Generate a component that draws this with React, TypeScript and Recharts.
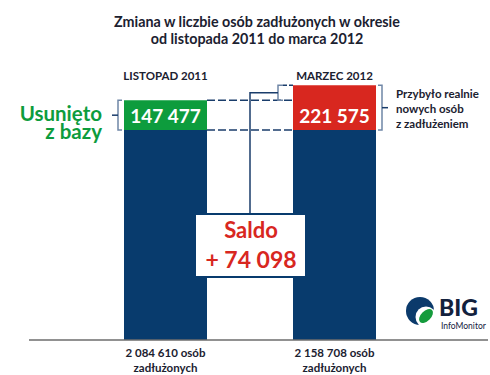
import React from 'react';
import { BarChart, Bar, XAxis, YAxis, Cell, LabelList } from 'recharts';

// ---- data ----
const categories = ['LISTOPAD 2011', 'MARZEC 2012'];
const totals = [2084610, 2158708]; // osób zadłużonych
const remaining = [1937133, 1937133]; // część wspólna (bez zmian)
const changes = [147477, 221575]; // usunięto z bazy / przybyło nowych
const changeColors = ['#0d9c3d', '#d8271f'];
const titleLines = ['Zmiana w liczbie osób zadłużonych w okresie', 'od listopada 2011 do marca 2012'];
const removedLabel = ['Usunięto', 'z bazy'];
const addedLabel = ['Przybyło realnie', 'nowych osób', 'z zadłużeniem'];
const totalSuffix = ['osób', 'zadłużonych'];
const saldoLabel = 'Saldo';
const yDomain = [900000, 2160000];

const data = categories.map((c, i) => ({ category: c, remaining: remaining[i], change: changes[i] }));

const FONT = 'Lato, "Open Sans", sans-serif';
const NAVY = '#083b6d';
const DARK = '#1b2130';
const BRACKET = '#6f86a6';
const LINE = '#1a3d6b';

const fmt = (n: number) => String(n).replace(/\B(?=(\d{3})+(?!\d))/g, ' ');

// geometry of the top segments, as laid out by Recharts (filled while labels render)
const geom: { x: number; y: number; w: number; h: number }[] = [];

const TopTick = (p: any) => (
  <text x={p.x} y={p.y + 3} textAnchor="middle" fontFamily={FONT} fontWeight={700} fontSize={11.5} fill={DARK}>
    {p.payload.value}
  </text>
);

const BottomTick = (p: any) => {
  const i = categories.indexOf(p.payload.value);
  return (
    <g>
      <text x={p.x} y={p.y + 9} textAnchor="middle" fontFamily={FONT} fontWeight={700} fontSize={11.5} fill={DARK}>
        {`${fmt(totals[i])} ${totalSuffix[0]}`}
      </text>
      <text x={p.x} y={p.y + 24} textAnchor="middle" fontFamily={FONT} fontWeight={700} fontSize={11.5} fill={DARK}>
        {totalSuffix[1]}
      </text>
    </g>
  );
};

const Annotations = (props: any) => {
  const vb = props.viewBox ?? props;
  let { x, y, width: w, height: h } = vb;
  if (h < 0) { y += h; h = -h; }
  const index = props.index;
  geom[index] = { x, y, w, h };
  const value = changes[index];
  const label = (
    <text x={x + w / 2} y={y + h - 7} textAnchor="middle" fontFamily={FONT} fontWeight={700} fontSize={19} fill="#fff">
      {fmt(value)}
    </text>
  );
  if (index === 0) {
    const bx = x - 6;
    const mid = y + h / 2;
    return (
      <g>
        {label}
        <path d={`M${bx + 4},${y} H${bx} V${y + h} H${bx + 4}`} fill="none" stroke={BRACKET} strokeWidth={1.5} />
        <line x1={x - 12} x2={bx} y1={mid} y2={mid} stroke={LINE} strokeWidth={1.5} />
        <text x={x - 22} y={y + 21} textAnchor="end" fontFamily={FONT} fontWeight={700} fontSize={20.5} fill={changeColors[0]}>
          {removedLabel[0]}
        </text>
        <text x={x - 22} y={y + 39} textAnchor="end" fontFamily={FONT} fontWeight={700} fontSize={20.5} fill={changeColors[0]}>
          {removedLabel[1]}
        </text>
      </g>
    );
  }
  const left = geom[0] ?? { x: x - 169, y: y + 15, w, h: h - 15 };
  const lx = left.x + left.w; // right edge of left bar
  const net = totals[1] - totals[0];
  const yNet = y + (net * h) / value;
  const nbx = x - 15;
  const nmid = (y + yNet) / 2;
  const cx = (lx + x) / 2;
  const boxTop = 214;
  const rbx = x + w + 6;
  const rmid = y + h / 2;
  return (
    <g>
      {/* dashed level lines between bars */}
      <line x1={lx} x2={x} y1={left.y} y2={left.y} stroke={LINE} strokeWidth={1.5} strokeDasharray="8 3" />
      <line x1={lx} x2={x} y1={y + h} y2={y + h} stroke={LINE} strokeWidth={1.5} strokeDasharray="8 3" />
      {label}
      {/* right bracket */}
      <path d={`M${rbx - 4},${y} H${rbx} V${y + h} H${rbx - 4}`} fill="none" stroke={BRACKET} strokeWidth={1.5} />
      <line x1={rbx} x2={rbx + 6} y1={rmid} y2={rmid} stroke={LINE} strokeWidth={1.5} />
      {addedLabel.map((t, k) => (
        <text key={k} x={x + w + 20} y={y + 13 + k * 15} fontFamily={FONT} fontWeight={700} fontSize={11.5} fill={DARK}>
          {t}
        </text>
      ))}
      {/* net bracket */}
      <path d={`M${nbx + 5},${y} H${nbx} V${yNet} H${nbx + 5}`} fill="none" stroke={BRACKET} strokeWidth={1.5} />
      <line x1={nbx + 5} x2={x} y1={y} y2={y} stroke={LINE} strokeWidth={1.5} strokeDasharray="4 2" />
      <path d={`M${nbx},${nmid} H${cx} V${boxTop}`} fill="none" stroke={LINE} strokeWidth={1.5} />
      {/* saldo box */}
      <rect x={cx - 55} y={boxTop} width={111} height={63} fill="#fff" stroke={NAVY} strokeWidth={2} />
      <text x={cx + 1} y={boxTop + 24} textAnchor="middle" fontFamily={FONT} fontWeight={700} fontSize={22} fill={changeColors[1]}>
        {saldoLabel}
      </text>
      <text x={cx + 1} y={boxTop + 54} textAnchor="middle" fontFamily={FONT} fontWeight={700} fontSize={23} fill={changeColors[1]}>
        {`+ ${fmt(net)}`}
      </text>
    </g>
  );
};

const Overlay = () => (
  <svg width={490} height={375} style={{ position: 'absolute', left: 0, top: 0, pointerEvents: 'none' }}>
    {titleLines.map((t, k) => (
      <text key={k} x={257} y={27 + k * 17} textAnchor="middle" fontFamily={FONT} fontWeight={700} fontSize={14.3} fill={DARK}>
        {t}
      </text>
    ))}
    {/* logo */}
    <g>
      <circle cx={420} cy={311} r={14} fill="#0b3a6b" />
      <circle cx={426} cy={317} r={10.5} fill="#fff" />
      <ellipse cx={426} cy={316} rx={8.5} ry={5} fill="#159b3c" transform="rotate(-45 426 316)" />
      <text x={439} y={316} fontFamily={FONT} fontWeight={900} fontSize={23} fill="#13213d">BIG</text>
      <text x={441} y={329} fontFamily={FONT} fontSize={8.5} fill="#13213d">InfoMonitor</text>
    </g>
  </svg>
);

export default function App() {
  return (
    <div style={{ position: 'absolute', left: 0, top: 0, width: 490, height: 375, background: '#fff' }}>
      <BarChart width={490} height={375} data={data} margin={{ top: 55, right: 2, bottom: 0, left: 29 }}>
        <XAxis
          xAxisId="top"
          orientation="top"
          dataKey="category"
          height={30}
          axisLine={false}
          tickLine={false}
          interval={0}
          padding={{ left: 52, right: 69 }}
          tick={<TopTick />}
        />
        <XAxis
          dataKey="category"
          height={35}
          interval={0}
          tickLine={false}
          axisLine={{ stroke: '#6d6d6d', strokeWidth: 1.5 }}
          padding={{ left: 52, right: 69 }}
          tick={<BottomTick />}
        />
        <YAxis hide domain={yDomain} allowDataOverflow type="number" />
        <Bar dataKey="remaining" stackId="s" fill={NAVY} barSize={83} isAnimationActive={false} />
        <Bar dataKey="change" stackId="s" barSize={83} isAnimationActive={false}>
          {data.map((d, i) => (
            <Cell key={d.category} fill={changeColors[i]} />
          ))}
          <LabelList dataKey="change" content={Annotations} />
        </Bar>
      </BarChart>
      <Overlay />
    </div>
  );
}
